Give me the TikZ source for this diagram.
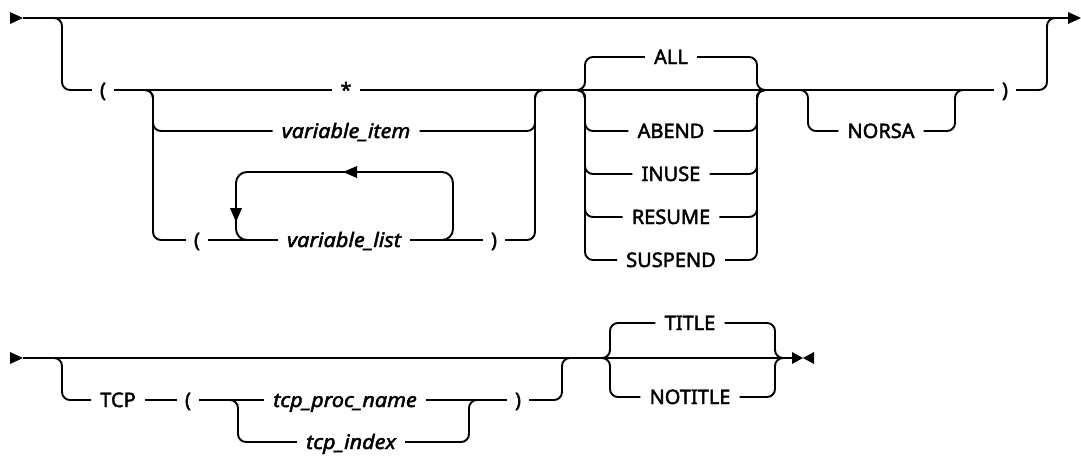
\documentclass[tikz,border=0pt]{standalone}
\usepackage{fontspec}
\setmainfont{Noto Sans}[FakeBold=2.2, ItalicFeatures={FakeStretch=1.08}]
\begin{document}
\begin{tikzpicture}[x=1pt,y=-1pt,
  rr/.style={line width=1.9pt, rounded corners=8pt},
  kw/.style={font=\fontsize{20}{20}\selectfont, inner xsep=9pt, inner ysep=0pt, text height=14pt, text depth=0pt},
  var/.style={kw, font=\fontsize{20}{20}\selectfont\itshape},
  sym/.style={kw, inner xsep=8pt},
  tip/.style={fill=black}
]
\useasboundingbox (0,0) rectangle (1081,456);
% ---------- row 1 ----------
\coordinate (s1) at (23,18);
\coordinate (e1) at (1069,18);
\coordinate (j1) at (62,18);
\coordinate (b1) at (153,90);
\coordinate (m1) at (535,90);
\coordinate (g1) at (585,90);
\coordinate (g2) at (757,90);
\coordinate (n1) at (808,90);
\coordinate (n2) at (955,90);
\coordinate (k1) at (1047,18);
\coordinate (lpR) at (453,172);
\coordinate (lpL) at (236,240);

\node[sym] (lp1) at (103,90) {(};
\node[sym] (star) at (346,90) {*};
\node[var] (vi) at (346,131) {variable\_item};
\node[sym] (lp2) at (197,240) {(};
\node[var] (vl) at (344,240) {variable\_list};
\node[sym] (rp2) at (494,240) {)};
\node[kw] (all) at (671,57) {ALL};
\node[kw] (abend) at (671,131) {ABEND};
\node[kw] (inuse) at (671,174) {INUSE};
\node[kw] (resume) at (671,217) {RESUME};
\node[kw] (suspend) at (671,260) {SUSPEND};
\node[kw] (norsa) at (881,131) {NORSA};
\node[sym] (rp3) at (1005,90) {)};

\fill[tip] (10,12) -- (s1) -- (10,24) -- cycle;
\draw[rr] (s1) -- (e1);
\fill[tip] (1068,12) -- (1081,18) -- (1068,24) -- cycle;
\draw[rr] (s1) -- (j1) |- (lp1.west);
\draw[rr] (lp1.east) -- (star.west);
\draw[rr] (star.east) -- (rp3.west);
\draw[rr] (lp1.east) -- (b1) |- (vi.west);
\draw[rr] (lp1.east) -- (b1) |- (lp2.west);
\draw[rr] (vi.east) -| (m1) -- ([xshift=10pt]m1);
\draw[rr] (lp2.east) -- (vl.west);
\draw[rr] (vl.east) -- (rp2.west);
\draw[rr] (rp2.east) -| (m1) -- ([xshift=10pt]m1);
\draw[rr, rounded corners=11pt] (vl.east) -| (lpR) -| (lpL) -- (vl.west);
\fill[tip] (343,172) -- (357,166) -- (357,178) -- cycle;
\fill[tip] (236,222) -- (230,208) -- (242,208) -- cycle;
\foreach \n in {all,abend,inuse,resume,suspend}{
  \draw[rr] ([xshift=-10pt]g1) -- (g1) |- (\n.west);
  \draw[rr] (\n.east) -| (g2) -- ([xshift=10pt]g2);
}
\draw[rr] ([xshift=-10pt]n1) -- (n1) |- (norsa.west);
\draw[rr] (norsa.east) -| (n2) -- ([xshift=10pt]n2);
\draw[rr] (rp3.east) -| (k1) -- ([xshift=10pt]k1);
% ---------- row 2 ----------
\coordinate (s2) at (23,358);
\coordinate (e2) at (792,358);
\coordinate (j2) at (62,358);
\coordinate (b2) at (238,400);
\coordinate (m2) at (469,400);
\coordinate (k2) at (562,358);
\coordinate (t1) at (610,358);
\coordinate (t2) at (775,358);

\node[kw] (tcp) at (118,400) {TCP};
\node[sym] (lp4) at (188,400) {(};
\node[var] (tpn) at (345,400) {tcp\_proc\_name};
\node[var] (tix) at (351,442) {tcp\_index};
\node[sym] (rp4) at (518,400) {)};
\node[kw] (title) at (690,323) {TITLE};
\node[kw] (notitle) at (690,397) {NOTITLE};

\fill[tip] (10,352) -- (s2) -- (10,364) -- cycle;
\draw[rr] (s2) -- (e2);
\draw[rr] (s2) -- (j2) |- (tcp.west);
\draw[rr] (tcp.east) -- (lp4.west);
\draw[rr] (lp4.east) -- (tpn.west);
\draw[rr] (lp4.east) -- (b2) |- (tix.west);
\draw[rr] (tpn.east) -- (rp4.west);
\draw[rr] (tix.east) -| (m2) -- ([xshift=10pt]m2);
\draw[rr] (rp4.east) -| (k2) -- ([xshift=10pt]k2);
\foreach \n in {title,notitle}{
  \draw[rr] ([xshift=-10pt]t1) -- (t1) |- (\n.west);
  \draw[rr] (\n.east) -| (t2) -- ([xshift=10pt]t2);
}
\fill[tip] (792,352) -- (803,358) -- (792,364) -- cycle;
\fill[tip] (814,352) -- (803,358) -- (814,364) -- cycle;
\end{tikzpicture}
\end{document}
